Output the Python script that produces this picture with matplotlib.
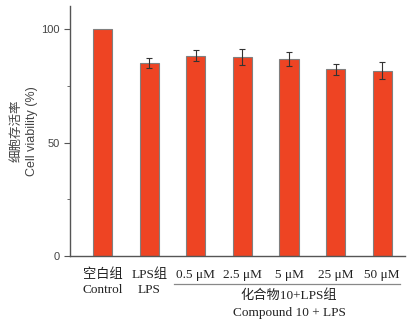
import matplotlib.pyplot as plt
import matplotlib.transforms as mtransforms
import numpy as np

groups = ["空白组\nControl", "LPS组\nLPS", "0.5 μM", "2.5 μM", "5 μM", "25 μM", "50 μM"]
viability = [100, 85, 88.2, 87.6, 86.8, 82.2, 81.6]
errors = [0, 2.0, 2.4, 3.5, 3.0, 2.3, 3.7]

plt.rcParams['font.family'] = ['Liberation Serif', 'Noto Sans CJK SC']

fig = plt.figure(figsize=(4.07, 3.23), dpi=100)
ax = fig.add_axes([0.172, 0.207, 0.823, 0.774])

x = np.arange(len(groups))
ax.bar(x, viability, width=0.41, color='#ee4423', edgecolor='#808080', linewidth=0.8)
# Control has no error bar
ax.errorbar(x[1:], viability[1:], yerr=errors[1:], fmt='none', ecolor='#333333',
            elinewidth=0.8, capsize=2.5, capthick=0.8)

ax.set_xlim(-0.70, 6.49)
ax.set_ylim(0, 110)
ax.set_yticks([0, 50, 100])
ax.set_yticks([25, 75], minor=True)
ax.set_xticks(x)
ax.set_xticklabels(groups, fontsize=9.5, color='#222222', linespacing=1.35)
ax.tick_params(axis='x', length=0, pad=9)
ax.tick_params(axis='y', which='major', length=4, color='#555555', labelsize=8,
               labelcolor='#444444', labelfontfamily=['Liberation Sans'])
ax.tick_params(axis='y', which='minor', length=2.5, color='#555555')
for s in ['top', 'right']:
    ax.spines[s].set_visible(False)
for s in ['left', 'bottom']:
    ax.spines[s].set_color('#555555')
    ax.spines[s].set_linewidth(1.0)

ax.set_ylabel("细胞存活率\nCell viability (%)", fontsize=9, color='#444444',
              family=['Liberation Sans', 'Noto Sans CJK SC'], linespacing=1.4, labelpad=2)

trans = mtransforms.blended_transform_factory(ax.transData, fig.transFigure)
ax.plot([1.53, 6.38], [1 - 284 / 323, 1 - 284 / 323], color='#888888', lw=0.9,
        transform=trans, clip_on=False)
fig.text(4.0, 1 - 296 / 323, "化合物10+LPS组", transform=trans, ha='center', va='center',
         fontsize=9.5, color='#222222')
fig.text(4.0, 1 - 313 / 323, "Compound 10 + LPS", transform=trans, ha='center', va='center',
         fontsize=9.5, color='#222222')

fig.savefig('out.png', dpi=100)
